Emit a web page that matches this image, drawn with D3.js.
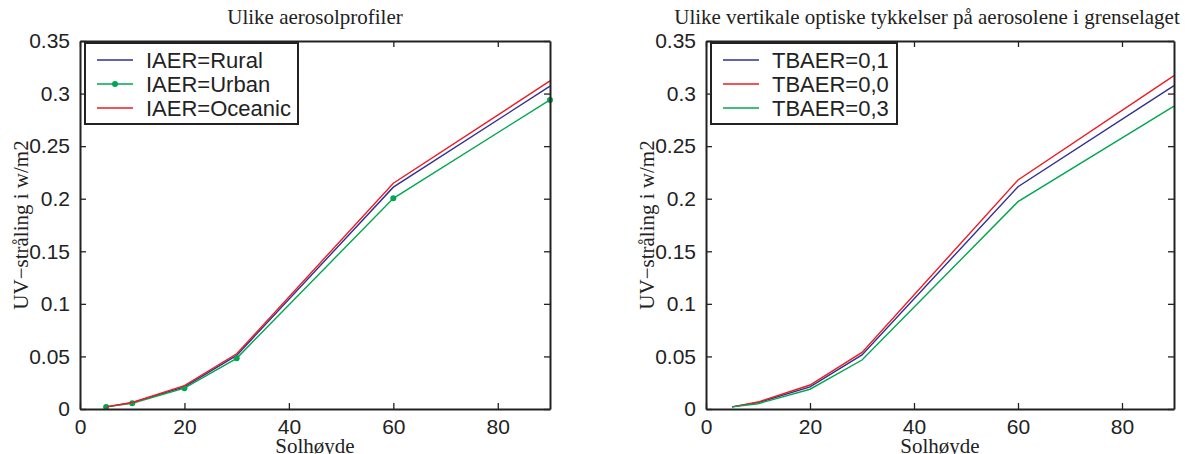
<!DOCTYPE html>
<html><head><meta charset="utf-8">
<script src="https://cdn.jsdelivr.net/npm/d3@7"></script>
<style>body{margin:0;background:#fff}svg{display:block}</style>
</head><body>
<svg id="c" width="1192" height="454"></svg>
<script>
const solhoyde = [5, 10, 20, 30, 60, 90];
const rural   = [0.002, 0.006, 0.021, 0.051, 0.211, 0.307];
const urban   = [0.002, 0.0055, 0.0198, 0.0482, 0.2004, 0.294];
const oceanic = [0.002, 0.0062, 0.0222, 0.0525, 0.2147, 0.312];
const tb01 = [0.002, 0.006, 0.021, 0.0514, 0.2114, 0.3076];
const tb00 = [0.002, 0.0066, 0.0228, 0.0538, 0.2178, 0.317];
const tb03 = [0.002, 0.005, 0.0188, 0.0466, 0.1972, 0.288];
const xTicks = [0, 20, 40, 60, 80];
const yTicks = [0, 0.05, 0.1, 0.15, 0.2, 0.25, 0.3, 0.35];
const titles = ["Ulike aerosolprofiler", "Ulike vertikale optiske tykkelser på aerosolene i grenselaget"];
const xLabel = "Solhøyde";
const yLabel = "UV\u2212stråling i w/m2";
const BLUE = "#2e3192", RED = "#ed1c24", GREEN = "#00a651";

const panels = [
  {left: 80, right: 550, titleX: 315, series: [
     {name: "IAER=Rural", vals: rural, color: BLUE, marker: false},
     {name: "IAER=Urban", vals: urban, color: GREEN, marker: true},
     {name: "IAER=Oceanic", vals: oceanic, color: RED, marker: false}],
   legendW: 213, title: titles[0]},
  {left: 706, right: 1174, titleX: 927, series: [
     {name: "TBAER=0,1", vals: tb01, color: BLUE, marker: false},
     {name: "TBAER=0,0", vals: tb00, color: RED, marker: false},
     {name: "TBAER=0,3", vals: tb03, color: GREEN, marker: false}],
   legendW: 186, title: titles[1]}
];
const plotTop = 41, plotBottom = 409;
const svg = d3.select("#c");
const SANS = "'Liberation Sans', Arial, sans-serif";
const SERIF = "'Liberation Serif', 'Times New Roman', serif";

panels.forEach(p => {
  const x = d3.scaleLinear().domain([0, 90]).range([p.left, p.right]);
  const y = d3.scaleLinear().domain([0, 0.35]).range([plotBottom, plotTop]);
  const g = svg.append("g");
  p.series.forEach(s => {
    const pts = solhoyde.map((v, i) => [v, s.vals[i]]);
    g.append("path").datum(pts)
      .attr("fill", "none").attr("stroke", s.color).attr("stroke-width", 1.4)
      .attr("d", d3.line().x(d => x(d[0])).y(d => y(d[1])));
    if (s.marker) {
      g.selectAll(null).data(pts).enter().append("circle")
        .attr("cx", d => x(d[0])).attr("cy", d => y(d[1])).attr("r", 3)
        .attr("fill", s.color);
    }
  });
  const axB = d3.axisBottom(x).tickValues(xTicks).tickSizeInner(-6).tickSizeOuter(0).tickPadding(10).tickFormat(d3.format("d"));
  const axT = d3.axisTop(x).tickValues(xTicks).tickSizeInner(-6).tickSizeOuter(0).tickFormat("");
  const axL = d3.axisLeft(y).tickValues(yTicks).tickSizeInner(-6).tickSizeOuter(0).tickPadding(10).tickFormat(d => d === 0 ? "0" : String(+d.toFixed(2)));
  const axR = d3.axisRight(y).tickValues(yTicks).tickSizeInner(-6).tickSizeOuter(0).tickFormat("");
  [[axB, `translate(0,${plotBottom})`], [axT, `translate(0,${plotTop})`], [axL, `translate(${p.left},0)`], [axR, `translate(${p.right},0)`]]
    .forEach(([ax, tr]) => {
      const a = g.append("g").attr("transform", tr).call(ax);
      a.select(".domain").attr("stroke", "#222").attr("stroke-width", 2);
      a.selectAll(".tick line").attr("stroke", "#222").attr("stroke-width", 1.3);
      a.selectAll("text").attr("font-family", SANS).attr("font-size", 21).attr("fill", "#222");
    });
  g.append("text").attr("x", p.titleX).attr("y", 24).attr("text-anchor", "middle")
    .attr("font-family", SERIF).attr("font-size", 21).attr("fill", "#222").text(p.title);
  g.append("text").attr("x", (p.left + p.right) / 2).attr("y", 453).attr("text-anchor", "middle")
    .attr("font-family", SERIF).attr("font-size", 21).attr("fill", "#222").text(xLabel);
  g.append("text").attr("transform", `translate(${p.left - 52},${(plotTop + plotBottom) / 2}) rotate(-90)`)
    .attr("text-anchor", "middle").attr("font-family", SERIF).attr("font-size", 21).attr("fill", "#222").text(yLabel);
  const lx = p.left + 5, ly = 43;
  const leg = g.append("g");
  leg.append("rect").attr("x", lx).attr("y", ly).attr("width", p.legendW).attr("height", 81)
    .attr("fill", "#fff").attr("stroke", "#222").attr("stroke-width", 2);
  p.series.forEach((s, i) => {
    const cy = ly + 17 + i * 24;
    leg.append("line").attr("x1", lx + 12).attr("x2", lx + 48).attr("y1", cy).attr("y2", cy)
      .attr("stroke", s.color).attr("stroke-width", 1.4);
    if (s.marker) leg.append("circle").attr("cx", lx + 30).attr("cy", cy).attr("r", 3).attr("fill", s.color);
    leg.append("text").attr("x", lx + 61).attr("y", cy).attr("dy", "0.35em")
      .attr("font-family", SANS).attr("font-size", 22).attr("fill", "#222").text(s.name);
  });
});
</script>
</body></html>
